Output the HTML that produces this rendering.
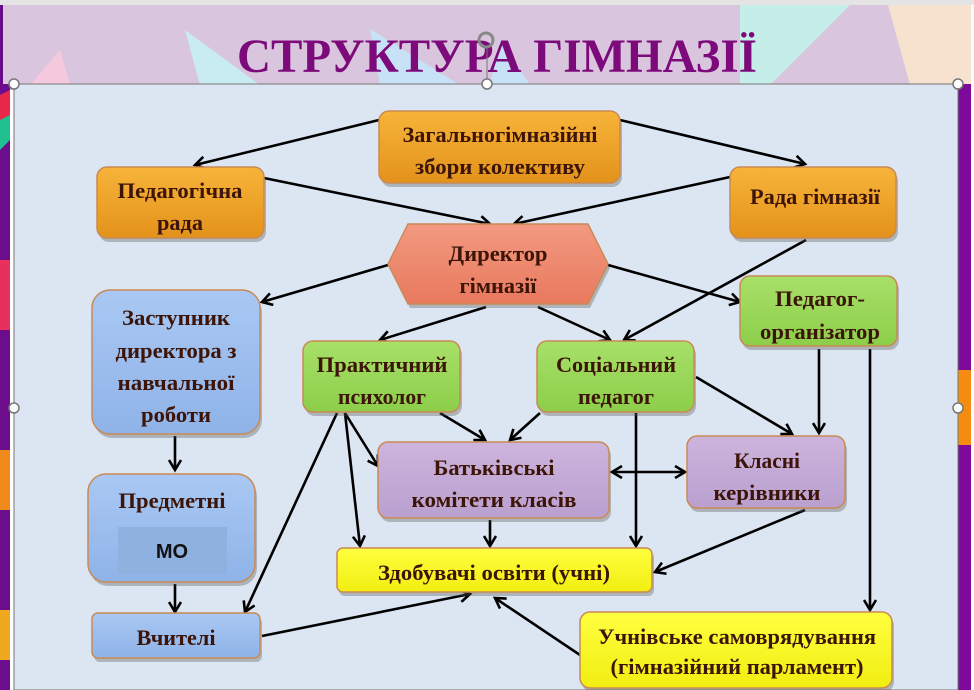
<!DOCTYPE html>
<html><head><meta charset="utf-8"><style>
html,body{margin:0;padding:0;width:974px;height:690px;overflow:hidden;background:#fff}
svg{display:block}
text{font-family:"Liberation Serif",serif;font-weight:bold;fill:#3d1408;font-size:22px;text-anchor:middle}
</style></head><body>
<svg width="974" height="690" viewBox="0 0 974 690">
<defs>
<marker id="a" markerWidth="14" markerHeight="14" refX="11" refY="7" orient="auto" markerUnits="userSpaceOnUse">
<path d="M1,1 L11,7 L1,13" fill="none" stroke="#000" stroke-width="2.6"/></marker>
<marker id="b" markerWidth="14" markerHeight="14" refX="3" refY="7" orient="auto" markerUnits="userSpaceOnUse">
<path d="M13,1 L3,7 L13,13" fill="none" stroke="#000" stroke-width="2.6"/></marker>
<linearGradient id="go" x1="0" y1="0" x2="0" y2="1"><stop offset="0" stop-color="#f7b43a"/><stop offset="1" stop-color="#e3921a"/></linearGradient>
<linearGradient id="gg" x1="0" y1="0" x2="0" y2="1"><stop offset="0" stop-color="#a8e068"/><stop offset="1" stop-color="#8cce4a"/></linearGradient>
<linearGradient id="gb" x1="0" y1="0" x2="0" y2="1"><stop offset="0" stop-color="#a9c8f3"/><stop offset="1" stop-color="#8fb3e8"/></linearGradient>
<linearGradient id="gp" x1="0" y1="0" x2="0" y2="1"><stop offset="0" stop-color="#cdb4dd"/><stop offset="1" stop-color="#b9a0cf"/></linearGradient>
<linearGradient id="gy" x1="0" y1="0" x2="0" y2="1"><stop offset="0" stop-color="#ffff40"/><stop offset="1" stop-color="#f0ee10"/></linearGradient>
<linearGradient id="gs" x1="0" y1="0" x2="0" y2="1"><stop offset="0" stop-color="#f29a80"/><stop offset="1" stop-color="#e8795e"/></linearGradient>
</defs>
<!-- header -->
<rect x="0" y="0" width="974" height="5" fill="#e4e4e4"/>
<rect x="0" y="5" width="974" height="85" fill="#d9c6de"/>
<polygon points="185,30 260,85 200,85" fill="#c9ecf2"/>
<polygon points="30,85 60,50 70,85" fill="#f5c8de"/>
<polygon points="370,29 460,85 380,85" fill="#c7e2f6"/>
<polygon points="740,5 850,5 770,85 740,85" fill="#c6eee8"/>
<polygon points="888,5 974,5 974,85 910,85" fill="#f6e2cf"/>
<polygon points="500,40 530,85 490,85" fill="#c7e2f6"/>
<rect x="0" y="5" width="3" height="685" fill="#6a0a8a"/>
<text x="497" y="72" style="font-size:48px;fill:#7d0a7a" textLength="520" lengthAdjust="spacingAndGlyphs">СТРУКТУРА ГІМНАЗІЇ</text>
<!-- side strips -->
<rect x="0" y="84" width="10" height="606" fill="#6b0d8d"/>
<polygon points="0,95 10,90 10,115 0,120" fill="#e8284a"/>
<polygon points="0,120 10,115 10,140 0,150" fill="#20c090"/>
<rect x="0" y="260" width="10" height="70" fill="#e8305c"/>
<rect x="0" y="450" width="10" height="60" fill="#f08a1a"/>
<rect x="0" y="610" width="10" height="50" fill="#f0a820"/>
<rect x="958" y="84" width="13" height="606" fill="#7d0a9a"/>
<rect x="958" y="370" width="13" height="75" fill="#f38c10"/>
<rect x="971" y="5" width="3" height="685" fill="#fff"/>
<!-- content -->
<rect x="14" y="84" width="944" height="606" fill="#dce6f2" stroke="#777" stroke-width="1"/>
<!-- connectors -->
<g stroke="#000" stroke-width="2.6" fill="none" marker-end="url(#a)">
<line x1="379" y1="120" x2="195" y2="165"/>
<line x1="620" y1="120" x2="805" y2="164"/>
<line x1="264" y1="178" x2="490" y2="224"/>
<line x1="730" y1="177" x2="514" y2="224"/>
<line x1="388" y1="265" x2="262" y2="302"/>
<line x1="608" y1="265" x2="740" y2="302"/>
<line x1="486" y1="307" x2="380" y2="340"/>
<line x1="538" y1="307" x2="610" y2="340"/>
<line x1="806" y1="240" x2="624" y2="340"/>
<line x1="175" y1="436" x2="175" y2="470"/>
<line x1="175" y1="584" x2="175" y2="612"/>
<line x1="440" y1="413" x2="485" y2="440"/>
<line x1="540" y1="413" x2="510" y2="440"/>
<line x1="345" y1="413" x2="378" y2="466"/>
<line x1="345" y1="413" x2="360" y2="546"/>
<line x1="337" y1="413" x2="245" y2="612"/>
<line x1="636" y1="413" x2="636" y2="546"/>
<line x1="696" y1="377" x2="792" y2="434"/>
<line x1="819" y1="349" x2="819" y2="433"/>
<line x1="870" y1="349" x2="870" y2="610"/>
<line x1="490" y1="520" x2="490" y2="546"/>
<line x1="805" y1="510" x2="655" y2="572"/>
<line x1="262" y1="636" x2="470" y2="594"/>
<line x1="580" y1="655" x2="495" y2="598"/>
<line x1="612" y1="472" x2="685" y2="472" marker-start="url(#b)"/>
</g>
<!-- shadows -->
<g fill="#555" opacity="0.35">
<rect x="381" y="115" width="241" height="72" rx="10"/>
<rect x="99" y="171" width="167" height="71" rx="10"/>
<rect x="732" y="171" width="166" height="71" rx="10"/>
<polygon points="410,228 590,228 610,268 590,308 410,308 390,268"/>
<rect x="94" y="294" width="168" height="144" rx="18"/>
<rect x="742" y="280" width="157" height="70" rx="10"/>
<rect x="305" y="345" width="157" height="71" rx="10"/>
<rect x="539" y="345" width="157" height="71" rx="10"/>
<rect x="380" y="446" width="231" height="76" rx="10"/>
<rect x="689" y="440" width="158" height="72" rx="10"/>
<rect x="90" y="478" width="167" height="108" rx="18"/>
<rect x="339" y="552" width="315" height="44" rx="6"/>
<rect x="94" y="617" width="168" height="45" rx="6"/>
<rect x="582" y="616" width="312" height="76" rx="10"/>
</g>
<!-- boxes -->
<g stroke="#c98a55" stroke-width="1.5">
<rect x="379" y="111" width="241" height="72" rx="10" fill="url(#go)"/>
<rect x="97" y="167" width="167" height="71" rx="10" fill="url(#go)"/>
<rect x="730" y="167" width="166" height="71" rx="10" fill="url(#go)"/>
<polygon points="408,224 588,224 608,264 588,304 408,304 388,264" fill="url(#gs)"/>
<rect x="92" y="290" width="168" height="144" rx="18" fill="url(#gb)"/>
<rect x="740" y="276" width="157" height="70" rx="10" fill="url(#gg)"/>
<rect x="303" y="341" width="157" height="71" rx="10" fill="url(#gg)"/>
<rect x="537" y="341" width="157" height="71" rx="10" fill="url(#gg)"/>
<rect x="378" y="442" width="231" height="76" rx="10" fill="url(#gp)"/>
<rect x="687" y="436" width="158" height="72" rx="10" fill="url(#gp)"/>
<rect x="88" y="474" width="167" height="108" rx="18" fill="url(#gb)"/>
<rect x="337" y="548" width="315" height="44" rx="6" fill="url(#gy)"/>
<rect x="92" y="613" width="168" height="45" rx="6" fill="url(#gb)"/>
<rect x="580" y="612" width="312" height="76" rx="10" fill="url(#gy)"/>
</g>
<rect x="118" y="527" width="109" height="47" fill="#8fb1e0"/>
<!-- labels -->
<text x="500" y="142" textLength="195" lengthAdjust="spacingAndGlyphs">Загальногімназійні</text>
<text x="500" y="174" textLength="170" lengthAdjust="spacingAndGlyphs">збори колективу</text>
<text x="180" y="198" textLength="125" lengthAdjust="spacingAndGlyphs">Педагогічна</text>
<text x="180" y="230" textLength="46" lengthAdjust="spacingAndGlyphs">рада</text>
<text x="815" y="204" textLength="130" lengthAdjust="spacingAndGlyphs">Рада гімназії</text>
<text x="498" y="261" textLength="99" lengthAdjust="spacingAndGlyphs">Директор</text>
<text x="498" y="293" textLength="77" lengthAdjust="spacingAndGlyphs">гімназії</text>
<text x="176" y="325" textLength="108" lengthAdjust="spacingAndGlyphs">Заступник</text>
<text x="176" y="358" textLength="121" lengthAdjust="spacingAndGlyphs">директора з</text>
<text x="176" y="390" textLength="117" lengthAdjust="spacingAndGlyphs">навчальної</text>
<text x="176" y="422" textLength="70" lengthAdjust="spacingAndGlyphs">роботи</text>
<text x="820" y="306" textLength="90" lengthAdjust="spacingAndGlyphs">Педагог-</text>
<text x="820" y="339" textLength="120" lengthAdjust="spacingAndGlyphs">організатор</text>
<text x="382" y="372" textLength="131" lengthAdjust="spacingAndGlyphs">Практичний</text>
<text x="382" y="404" textLength="88" lengthAdjust="spacingAndGlyphs">психолог</text>
<text x="616" y="372" textLength="120" lengthAdjust="spacingAndGlyphs">Соціальний</text>
<text x="616" y="404" textLength="76" lengthAdjust="spacingAndGlyphs">педагог</text>
<text x="494" y="475" textLength="121" lengthAdjust="spacingAndGlyphs">Батьківські</text>
<text x="494" y="507" textLength="165" lengthAdjust="spacingAndGlyphs">комітети класів</text>
<text x="767" y="468" textLength="66" lengthAdjust="spacingAndGlyphs">Класні</text>
<text x="767" y="500" textLength="107" lengthAdjust="spacingAndGlyphs">керівники</text>
<text x="172" y="508" textLength="107" lengthAdjust="spacingAndGlyphs">Предметні</text>
<text x="172" y="558" style="font-family:'Liberation Sans',sans-serif;fill:#111;font-size:20px">МО</text>
<text x="494" y="580" textLength="232" lengthAdjust="spacingAndGlyphs">Здобувачі освіти (учні)</text>
<text x="176" y="645" textLength="79" lengthAdjust="spacingAndGlyphs">Вчителі</text>
<text x="737" y="644" textLength="278" lengthAdjust="spacingAndGlyphs">Учнівське самоврядування</text>
<text x="737" y="674" textLength="253" lengthAdjust="spacingAndGlyphs">(гімназійний парламент)</text>
<!-- handles -->
<g fill="#fff" stroke="#777" stroke-width="1.5">
<circle cx="14" cy="84" r="5"/><circle cx="487" cy="84" r="5"/><circle cx="958" cy="84" r="5"/>
<circle cx="14" cy="408" r="5"/><circle cx="958" cy="408" r="5"/>
<circle cx="486" cy="40" r="7" fill="none" stroke="#888" stroke-width="3"/>
</g>
<line x1="487" y1="47" x2="487" y2="79" stroke="#777" stroke-width="1"/>
</svg>
</body></html>
